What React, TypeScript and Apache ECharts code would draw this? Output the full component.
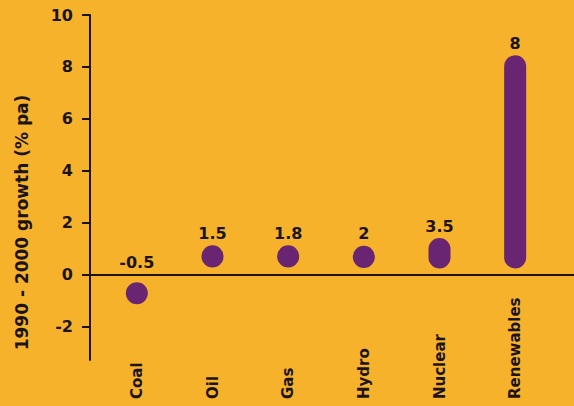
import React, { useEffect, useRef } from "react";
import * as echarts from "echarts";

const categories = ["Coal", "Oil", "Gas", "Hydro", "Nuclear", "Renewables"];
const growthLabels = [-0.5, 1.5, 1.8, 2, 3.5, 8];
// drawn extent of each capsule (as it appears in the picture)
const markStart = [-0.3, 0.27, 0.27, 0.25, 0.23, 0.23];
const markEnd = [-1.15, 1.12, 1.12, 1.1, 1.4, 8.45];
const yTickValues = [-2, 0, 2, 4, 6, 8, 10];
const yRange = { min: -3.3, max: 10 };

const BG = "#F6B22B";
const PURPLE = "#6A2572";
const INK = "#1c1414";
const FONT = "DejaVu Sans";

export default function App() {
  const ref = useRef<HTMLDivElement>(null);
  useEffect(() => {
    if (!ref.current) return;
    const chart = echarts.init(ref.current, undefined, { renderer: "svg" });
    const spans = markEnd.map((e, i) => +(e - markStart[i]).toFixed(3));
    const isNeg = growthLabels.map((v) => v < 0);
    const labelStyle = {
      show: true,
      position: "top",
      distance: 4,
      color: INK,
      fontFamily: FONT,
      fontWeight: "bold",
      fontSize: 16,
    };
    chart.setOption({
      animation: false,
      backgroundColor: BG,
      grid: [
        { left: 90, right: 0, top: 15, bottom: 46 },
        { left: 99, right: 21, top: 15, bottom: 46 },
      ],
      xAxis: [
        {
          type: "value",
          gridIndex: 0,
          min: 0,
          max: 1,
          axisLine: { show: true, onZero: true, lineStyle: { color: INK, width: 2 } },
          axisTick: { show: false },
          axisLabel: { show: false },
          splitLine: { show: false },
        },
        {
          type: "category",
          gridIndex: 1,
          data: categories,
          axisLine: { show: false, onZero: false },
          axisTick: { show: false },
          axisLabel: {
            rotate: 90,
            align: "left",
            margin: 39,
            color: INK,
            fontFamily: FONT,
            fontWeight: "bold",
            fontSize: 15,
          },
        },
      ],
      yAxis: [
        {
          type: "value",
          gridIndex: 0,
          min: yRange.min,
          max: yRange.max,
          axisLine: { show: true, lineStyle: { color: INK, width: 2 } },
          axisTick: {
            show: true,
            length: 8,
            customValues: yTickValues,
            lineStyle: { color: INK, width: 2 },
          },
          axisLabel: {
            margin: 17,
            customValues: yTickValues,
            color: INK,
            fontFamily: FONT,
            fontWeight: "bold",
            fontSize: 16,
          },
          splitLine: { show: false },
          name: "1990 - 2000 growth (% pa)",
          nameLocation: "middle",
          nameGap: 60,
          nameTextStyle: {
            color: INK,
            fontFamily: FONT,
            fontWeight: "bold",
            fontSize: 17,
            padding: [0, 70, 0, 0],
          },
        },
        {
          type: "value",
          gridIndex: 1,
          min: yRange.min,
          max: yRange.max,
          show: false,
        },
      ],
      series: [
        {
          type: "bar",
          xAxisIndex: 1,
          yAxisIndex: 1,
          stack: "m",
          barWidth: 22,
          itemStyle: { color: "transparent" },
          data: markStart.map((v, i) => ({
            value: v,
            label: isNeg[i]
              ? { ...labelStyle, formatter: String(growthLabels[i]) }
              : { show: false },
          })),
          emphasis: { disabled: true },
        },
        {
          type: "bar",
          xAxisIndex: 1,
          yAxisIndex: 1,
          stack: "m",
          barWidth: 22,
          itemStyle: { color: PURPLE, borderRadius: 11 },
          data: spans.map((v, i) => ({
            value: v,
            label: !isNeg[i]
              ? { ...labelStyle, formatter: String(growthLabels[i]) }
              : { show: false },
          })),
          emphasis: { disabled: true },
        },
      ],
    });
    return () => chart.dispose();
  }, []);
  return (
    <div
      ref={ref}
      style={{ position: "fixed", left: 0, top: 0, width: 574, height: 406 }}
    />
  );
}
